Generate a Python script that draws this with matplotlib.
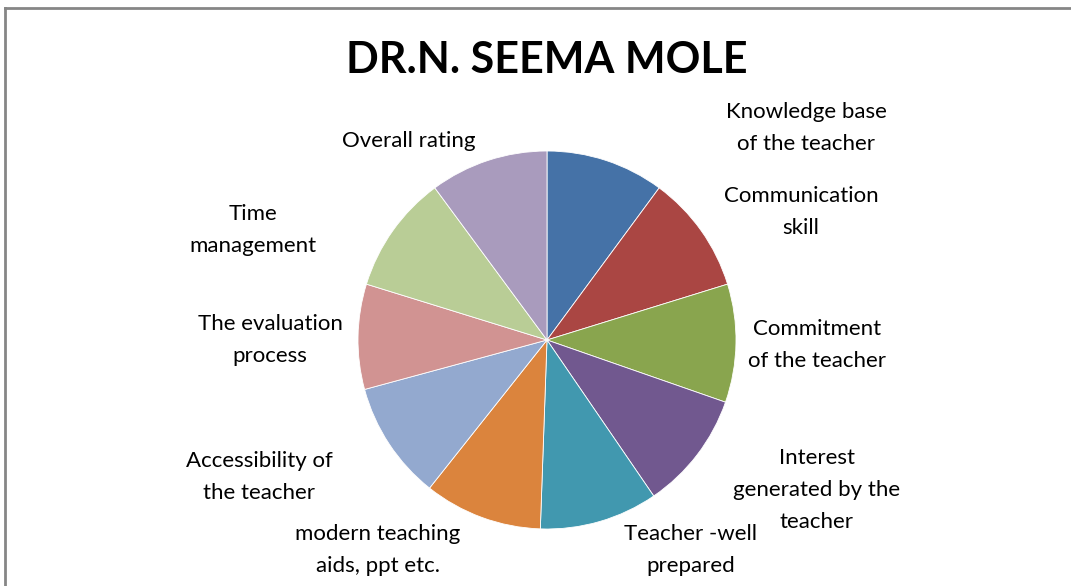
import matplotlib
matplotlib.use('Agg')
import matplotlib.pyplot as plt
from matplotlib.lines import Line2D

# Данные диаграммы
categories = ['Knowledge base\nof the teacher', 'Communication\nskill',
              'Commitment\nof the teacher', 'Interest\ngenerated by the\nteacher',
              'Teacher -well\nprepared', 'modern teaching\naids, ppt etc.',
              'Accessibility of\nthe teacher', 'The evaluation\nprocess',
              'Time\nmanagement', 'Overall rating']
ratings = [4.5, 4.5, 4.5, 4.5, 4.5, 4.5, 4.5, 4.0, 4.5, 4.5]
colors = ['#4572A7', '#AA4643', '#89A54E', '#71588F', '#4198AF',
          '#DB843D', '#93A9CF', '#D19392', '#B9CD96', '#A99BBD']

# Положение подписей (в пикселях рисунка)
label_pos = [(806, 128), (801, 212), (817, 345), (817, 490), (691, 550),
             (378, 550), (259, 477), (270, 340), (253, 230), (409, 141)]

W, H = 1071, 586
plt.rcParams['font.family'] = ['Lato', 'DejaVu Sans']
fig = plt.figure(figsize=(W / 100, H / 100), dpi=100)

# Рамка области диаграммы
fig.add_artist(Line2D([5 / W, 5 / W], [0, 1 - 8 / H], color='#868686', lw=2, transform=fig.transFigure))
fig.add_artist(Line2D([5 / W, 1], [1 - 8 / H, 1 - 8 / H], color='#868686', lw=2, transform=fig.transFigure))

cx, cy, r = 547, 340, 189
ax = fig.add_axes([(cx - r) / W, (H - cy - r) / H, 2 * r / W, 2 * r / H])
ax.pie(ratings, colors=colors, startangle=90, counterclock=False,
       wedgeprops=dict(edgecolor='white', linewidth=0.6))
ax.set_xlim(-1, 1)
ax.set_ylim(-1, 1)
ax.axis('off')

for name, (x, y) in zip(categories, label_pos):
    fig.text(x / W, 1 - y / H, name, ha='center', va='center', fontsize=16,
             linespacing=1.75)

fig.text(547 / W, 1 - 60 / H, 'DR.N. SEEMA MOLE', ha='center', va='center',
         fontsize=31, fontweight='bold')

fig.savefig('out.png', dpi=100)
